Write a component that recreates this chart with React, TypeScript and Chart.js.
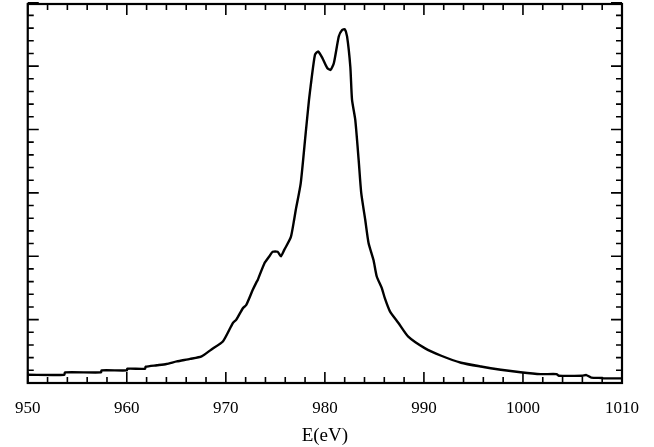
import React, { useEffect, useRef } from "react";
import { Chart, registerables } from "chart.js";

Chart.register(...registerables);

const energy: number[] = [
  950.0, 953.7, 953.75, 957.4, 957.45, 960.0, 960.05, 961.85, 961.9, 963.05,
  964.0, 965.05, 966.39, 967.55, 968.55, 969.72, 970.72, 971.06, 971.72, 972.06,
  972.72, 973.06, 973.23, 973.9, 974.4, 974.73, 975.23, 975.56, 975.9, 976.56,
  976.9, 977.06, 977.56, 978.06, 978.4, 978.56, 979.0, 979.33, 979.74, 980.24,
  980.57, 980.91, 981.41, 981.74, 982.01, 982.24, 982.57, 982.74, 983.07, 983.41,
  983.67, 984.07, 984.41, 984.91, 985.24, 985.74, 986.07, 986.57, 987.41, 988.42,
  990.08, 991.75, 993.75, 995.75, 997.76, 999.76, 1001.76, 1003.4, 1003.6, 1006.0,
  1006.4, 1006.9, 1008.0, 1008.1, 1010.0,
];

const intensity: number[] = [
  0.13, 0.13, 0.168, 0.168, 0.199, 0.199, 0.225, 0.225, 0.257, 0.28,
  0.3, 0.34, 0.38, 0.42, 0.53, 0.66, 0.95, 1.0, 1.18, 1.23,
  1.47, 1.58, 1.63, 1.89, 2.0, 2.07, 2.07, 2.0, 2.1, 2.3,
  2.58, 2.73, 3.15, 3.94, 4.47, 4.68, 5.18, 5.23, 5.13, 4.97,
  4.94, 5.05, 5.47, 5.57, 5.58, 5.47, 4.99, 4.47, 4.15, 3.52,
  3.0, 2.58, 2.21, 1.94, 1.68, 1.5, 1.33, 1.13, 0.95, 0.73,
  0.55, 0.43, 0.32, 0.26, 0.21, 0.17, 0.14, 0.14, 0.115, 0.115,
  0.125, 0.085, 0.08, 0.073, 0.073,
];

const xMin = 950;
const xMax = 1010;
const xMajor = 10;
const xMinor = 2;
const yMin = 0;
const yMax = 5.98;
const yMajor = 1;
const yMinor = 0.2;

const framePlugin = {
  id: "frameTicks",
  afterDraw(chart: any) {
    const { ctx, chartArea, scales } = chart;
    const { left, right, top, bottom } = chartArea;
    const xs = scales.x;
    const ys = scales.y;
    ctx.save();
    ctx.strokeStyle = "#000";
    ctx.lineWidth = 1.6;
    ctx.beginPath();
    const nx = Math.round((xMax - xMin) / xMinor);
    for (let i = 0; i <= nx; i++) {
      const v = xMin + i * xMinor;
      const px = xs.getPixelForValue(v);
      const isMajor = Math.abs(v / xMajor - Math.round(v / xMajor)) < 1e-6;
      const len = isMajor ? 11 : 6;
      ctx.moveTo(px, bottom);
      ctx.lineTo(px, bottom - len);
      ctx.moveTo(px, top);
      ctx.lineTo(px, top + len);
    }
    const ny = Math.round((yMax - yMin) / yMinor);
    for (let i = 0; i <= ny; i++) {
      const v = yMin + i * yMinor;
      const py = ys.getPixelForValue(v);
      const isMajor = Math.abs(v / yMajor - Math.round(v / yMajor)) < 1e-6;
      const len = isMajor ? 11 : 6;
      ctx.moveTo(left, py);
      ctx.lineTo(left + len, py);
      ctx.moveTo(right, py);
      ctx.lineTo(right - len, py);
    }
    ctx.stroke();
    ctx.lineWidth = 2.2;
    ctx.strokeRect(left, top, right - left, bottom - top);
    ctx.restore();
  },
};

export default function App() {
  const ref = useRef<HTMLCanvasElement | null>(null);
  useEffect(() => {
    if (!ref.current) return;
    const points = energy.map((e, i) => ({ x: e, y: intensity[i] }));
    const chart = new Chart(ref.current, {
      type: "line",
      data: {
        datasets: [
          {
            data: points,
            borderColor: "#000",
            borderWidth: 2.4,
            pointRadius: 0,
            tension: 0.2,
            fill: false,
          },
        ],
      },
      options: {
        animation: false,
        responsive: false,
        maintainAspectRatio: false,
        layout: { padding: { left: 23, right: 31.7, top: 4, bottom: 0 } },
        plugins: { legend: { display: false }, tooltip: { enabled: false } },
        scales: {
          x: {
            type: "linear",
            min: xMin,
            max: xMax,
            grid: { display: false, drawTicks: false },
            border: { display: false },
            ticks: {
              stepSize: xMajor,
              color: "#000",
              padding: 15,
              maxRotation: 0,
              font: { family: "'Liberation Serif', serif", size: 17 },
              callback: (v: any) => String(v),
            },
            title: {
              display: true,
              text: "E(eV)",
              color: "#000",
              padding: { top: 0, bottom: 0 },
              font: { family: "'Liberation Serif', serif", size: 19 },
            },
            afterFit(scale: any) {
              scale.height = 64;
            },
          },
          y: {
            type: "linear",
            display: false,
            min: yMin,
            max: yMax,
          },
        },
      },
      plugins: [framePlugin],
    });
    return () => chart.destroy();
  }, []);
  return (
    <div style={{ position: "absolute", left: 0, top: 0, width: 654, height: 447, background: "#fff" }}>
      <canvas ref={ref} width={654} height={447} />
    </div>
  );
}
